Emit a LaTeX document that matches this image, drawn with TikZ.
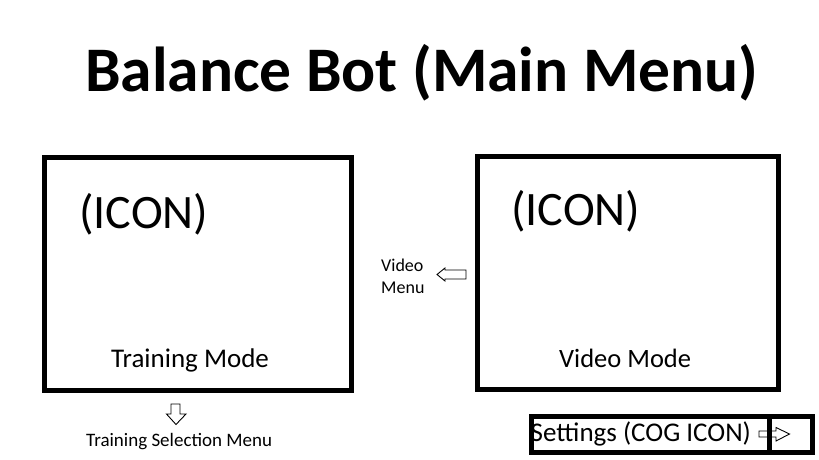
\documentclass[tikz,border=0pt]{standalone}
\usepackage{fontspec}
\setmainfont{Carlito}
\begin{document}
\begin{tikzpicture}[x=1pt,y=-1pt,
  frame/.style={draw=black,line width=5pt,inner sep=0pt,outer sep=0pt,anchor=north west},
  lbl/.style={inner sep=0pt,anchor=base west},
  blk/.style={draw=black,line width=0.9pt,fill=white,line join=miter}]
\useasboundingbox (0,0) rectangle (819,460);
\fill[white] (0,0) rectangle (819,460);
\node[lbl,font=\bfseries\fontsize{63.5}{70}\selectfont] (title) at (85,92) {Balance Bot (Main Menu)};
% mode boxes
\node[frame,minimum width=307pt,minimum height=232.5pt] (train) at (44,157.5) {};
\node[frame,minimum width=301pt,minimum height=233pt] (video) at (477.5,156) {};
\node[lbl,font=\fontsize{48}{54}\selectfont] (icon1) at (79,228) {(ICON)};
\node[lbl,font=\fontsize{48}{54}\selectfont] (icon2) at (511,225) {(ICON)};
\node[lbl,font=\fontsize{27}{30}\selectfont] (trainlbl) at (111,367) {Training Mode};
\node[lbl,font=\fontsize{26.5}{30}\selectfont] (videolbl) at (559,367) {Video Mode};
% video menu
\node[lbl,font=\fontsize{18}{22}\selectfont] (vm1) at (381,271) {Video};
\node[lbl,font=\fontsize{18}{22}\selectfont] (vm2) at (381,293) {Menu};
\draw[blk] (437,274.5) -- (445,268) -- (445,270) -- (466,270) -- (466,279) -- (445,279) -- (445,281) -- cycle;
% training selection
\draw[blk] (171,404) -- (180,404) -- (180,414) -- (186,414) -- (176,424.5) -- (166.5,414) -- (171,414) -- cycle;
\node[lbl,font=\fontsize{19}{22}\selectfont] (tsm) at (86,446) {Training Selection Menu};
% settings
\draw[blk] (759,431) -- (776,431) -- (776,427.5) -- (789.5,434) -- (776,441) -- (776,437) -- (759,437) -- cycle;
\node[frame,minimum width=281.5pt,minimum height=36pt] (settings) at (531,416.7) {};
\coordinate (dtop) at (769,416.7);
\coordinate (dbot) at (769,452.7);
\draw[line width=5pt] (dtop) -- (dbot);
\node[lbl,font=\fontsize{27}{30}\selectfont] (setlbl) at (530.5,441.7) {Settings (COG ICON)};
\end{tikzpicture}
\end{document}
